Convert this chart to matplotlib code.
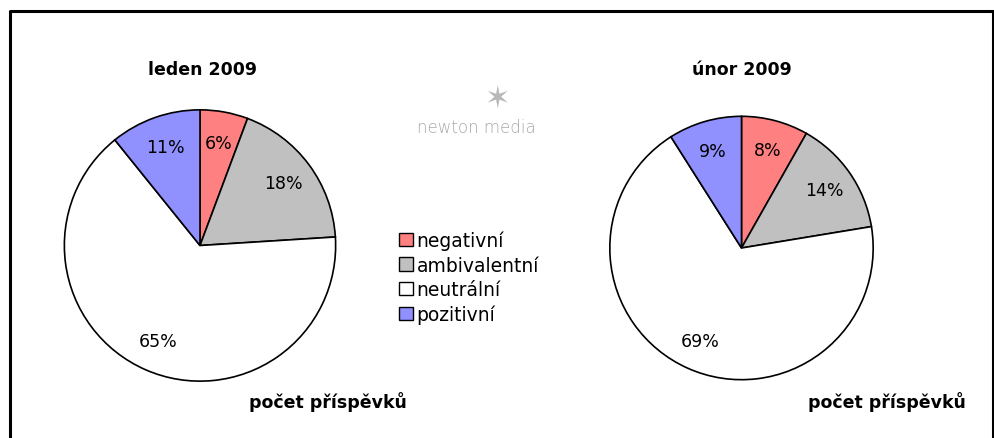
import matplotlib.pyplot as plt
from matplotlib.patches import Patch
from matplotlib.lines import Line2D

# Categories and shares (%)
CATEGORIES = ["negativní", "ambivalentní", "neutrální", "pozitivní"]
COLORS = ["#FF8080", "#C0C0C0", "#FFFFFF", "#9090FF"]
LEDEN_2009 = [5.7, 18.3, 65.2, 10.8]
UNOR_2009 = [8.2, 14.2, 68.6, 9.0]
TITLES = ["leden 2009", "únor 2009"]
FOOTER = "počet příspěvků"

W, H = 995, 439
plt.rcParams["font.family"] = ["DejaVu Sans"]


def px_axes(fig, cx, cy, r):
    # axes square around a pie centre given in pixels (y from top)
    return fig.add_axes([(cx - r) / W, 1 - (cy + r) / H, 2 * r / W, 2 * r / H])


def draw_pie(ax, values):
    ax.pie(values, colors=COLORS, startangle=90, counterclock=False,
           autopct="%.0f%%", pctdistance=0.77, radius=1.0,
           wedgeprops=dict(edgecolor="black", linewidth=1.2),
           textprops=dict(fontsize=12.5, color="black"))
    ax.set_xlim(-1.01, 1.01)
    ax.set_ylim(-1.01, 1.01)
    ax.set_aspect("equal")
    ax.axis("off")


def main():
    fig = plt.figure(figsize=(W / 100, H / 100), dpi=100)

    ax_l = px_axes(fig, 200, 246.5, 137)
    draw_pie(ax_l, LEDEN_2009)
    ax_r = px_axes(fig, 741.5, 249, 133)
    draw_pie(ax_r, UNOR_2009)

    bold = dict(ha="center", va="center", fontsize=12.5, fontweight="bold")
    fig.text(203 / W, 1 - 70 / H, TITLES[0], **bold)
    fig.text(742 / W, 1 - 70 / H, TITLES[1], **bold)
    fig.text(328 / W, 1 - 402 / H, FOOTER, **bold)
    fig.text(887 / W, 1 - 402 / H, FOOTER, **bold)

    # newton media logo (text only, with a simple mark)
    fig.text(476 / W, 1 - 128 / H, "newton media", ha="center", va="center",
             fontsize=12, color="#A8A8A8", fontweight="light")
    fig.text(497 / W, 1 - 99 / H, "✶", ha="center", va="center",
             fontsize=22, color="#B8B8B8")

    handles = [Patch(facecolor=c, edgecolor="black", linewidth=1.0)
               for c in COLORS]
    fig.legend(handles, CATEGORIES, loc="upper left",
               bbox_to_anchor=(390 / W, 1 - 222 / H), frameon=False,
               fontsize=13.5, handlelength=0.72, handleheight=0.72,
               handletextpad=0.2, labelspacing=0.3, borderpad=0)

    # outer frame (bottom edge runs off the image)
    fig.add_artist(Line2D([9.5 / W, 9.5 / W, 993.5 / W, 993.5 / W],
                          [-0.05, 1 - 12 / H, 1 - 12 / H, -0.05],
                          transform=fig.transFigure, color="black",
                          linewidth=2.2))

    fig.savefig("out.png", dpi=100)


if __name__ == "__main__":
    main()
